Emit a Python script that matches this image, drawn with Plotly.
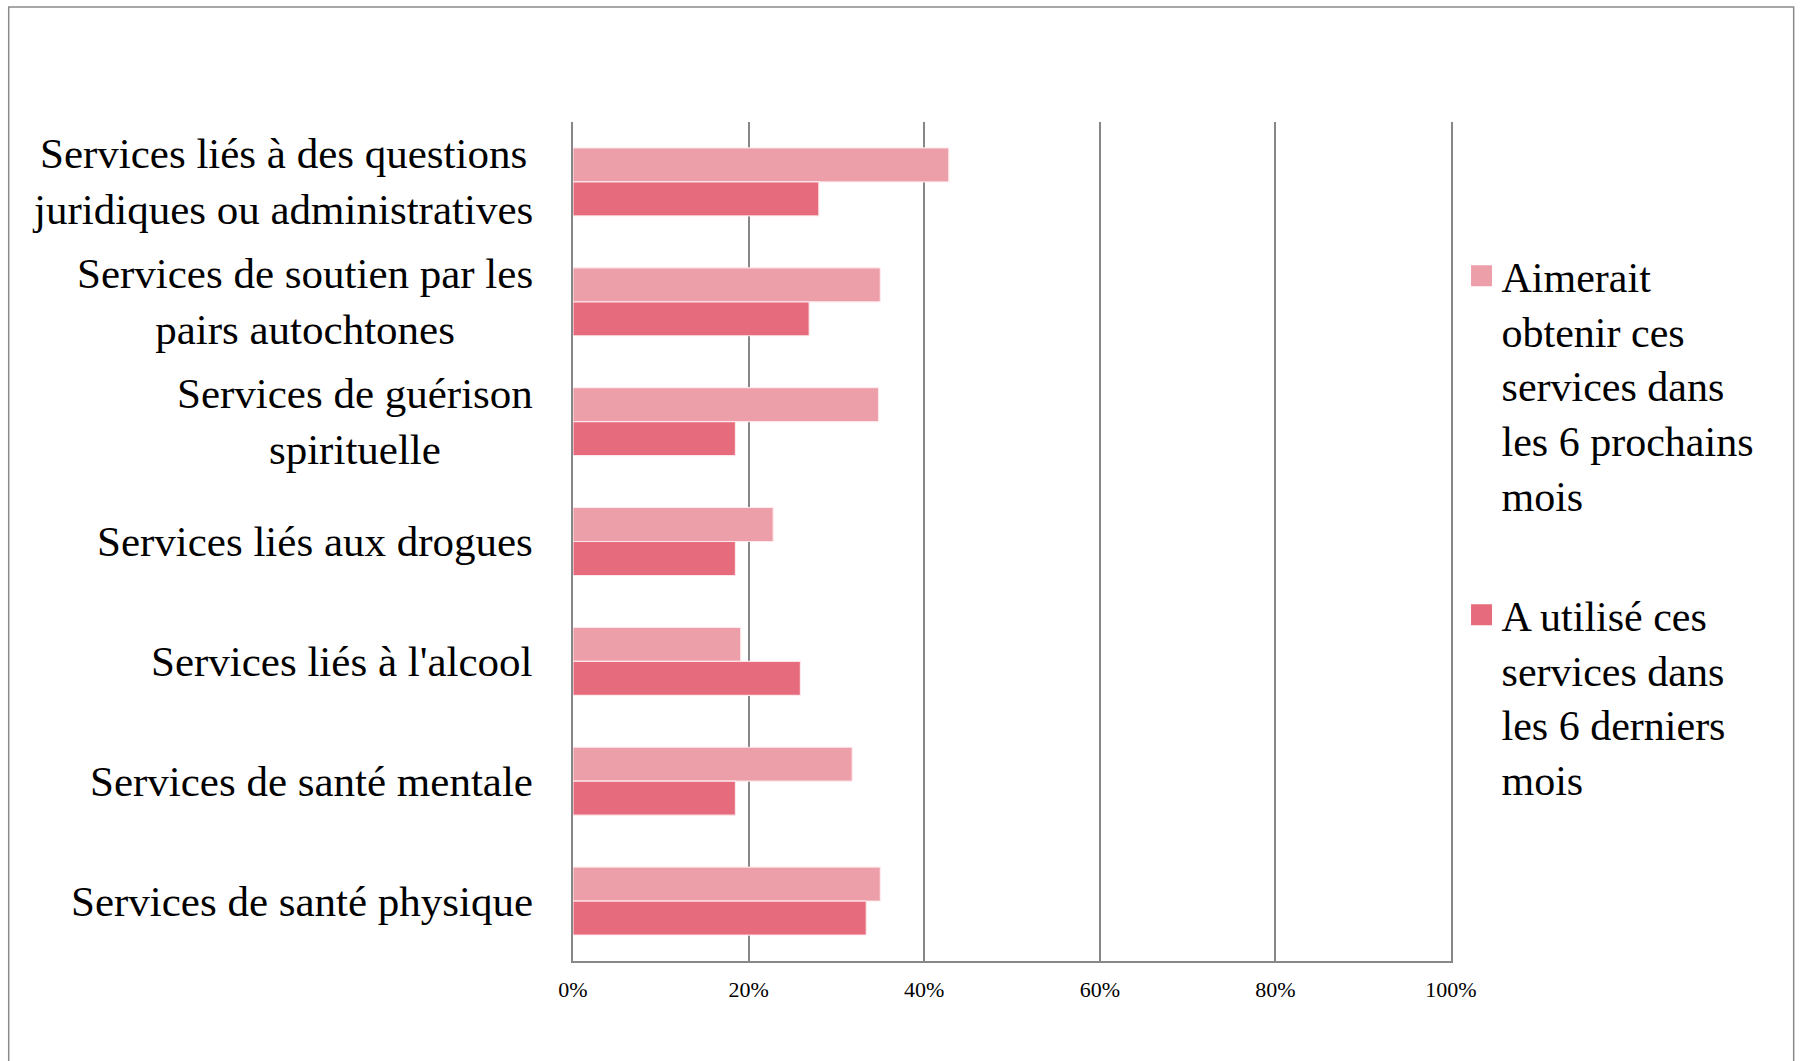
import plotly.graph_objects as go

categories = [
    "Services liés à des questions<br>juridiques ou administratives",
    "Services de soutien par les<br>pairs autochtones",
    "Services de guérison<br>spirituelle",
    "Services liés aux drogues",
    "Services liés à l'alcool",
    "Services de santé mentale",
    "Services de santé physique",
]
cat_keys = ["c1", "c2", "c3", "c4", "c5", "c6", "c7"]
series_names = [
    "Aimerait<br>obtenir ces<br>services dans<br>les 6 prochains<br>mois",
    "A utilisé ces<br>services dans<br>les 6 derniers<br>mois",
]
aimerait = [42.8, 35.0, 34.8, 22.8, 19.1, 31.8, 35.0]
utilise = [28.0, 26.9, 18.5, 18.5, 25.9, 18.5, 33.4]
x_ticks = [0, 20, 40, 60, 80, 100]
x_tick_labels = ["0%", "20%", "40%", "60%", "80%", "100%"]

colors = ["#EC9FA8", "#E66C7D"]
FONT = "Liberation Serif"

fig = go.Figure()
for name, vals, col, grp in zip(series_names, [aimerait, utilise], colors, ["g1", "g2"]):
    fig.add_trace(go.Bar(
        y=cat_keys, x=vals, name=name, orientation="h",
        marker=dict(color=col, line=dict(color="rgba(255,235,238,0.9)", width=1.2)),
        legendgroup=grp, showlegend=False,
    ))
    # legend entry with a larger square swatch (same series, same colour)
    fig.add_trace(go.Scatter(
        x=[None], y=[None], mode="markers", name=name, legendgroup=grp,
        marker=dict(symbol="square", size=16, color=col, line=dict(color=col, width=5)),
        hoverinfo="skip", showlegend=True,
    ))

for key, label in zip(cat_keys, categories):
    fig.add_annotation(
        x=0, xref="paper", y=key, yref="y", text=label, showarrow=False,
        xanchor="right", yanchor="middle", align="center", xshift=-38,
        font=dict(family=FONT, size=43, color="#000000"),
    )

fig.update_layout(
    width=1803, height=1061,
    margin=dict(l=573, r=352, t=122, b=100),
    paper_bgcolor="white", plot_bgcolor="white",
    barmode="group", bargap=0.433, bargroupgap=0,
    font=dict(family=FONT, color="#000000"),
    legend=dict(
        x=1.012, xanchor="left", y=0.857, yanchor="top",
        font=dict(family=FONT, size=42, color="#000000"),
        valign="top", traceorder="grouped", tracegroupgap=63,
        itemsizing="trace", bgcolor="rgba(0,0,0,0)",
    ),
    showlegend=True,
)
fig.update_xaxes(
    range=[0, 100], tickvals=x_ticks, ticktext=x_tick_labels,
    showgrid=True, gridcolor="#878787", gridwidth=1.6,
    showline=True, linecolor="#878787", linewidth=1.6,
    zeroline=False, ticks="", ticklabelstandoff=8,
    tickfont=dict(family=FONT, size=22, color="#000000"),
)
fig.update_yaxes(
    categoryorder="array", categoryarray=cat_keys, autorange="reversed",
    showticklabels=False, showgrid=False, ticks="",
    showline=True, mirror=True, linecolor="#878787", linewidth=1.6, zeroline=False,
)
fig.add_shape(
    type="rect", xref="paper", yref="paper",
    x0=-0.6427, x1=1.3903, y0=-0.2, y1=1.137,
    line=dict(color="#8a8a8a", width=1.5), fillcolor="rgba(0,0,0,0)", layer="below",
)

fig.write_html(
    "out.html",
    config={"displayModeBar": False},
    post_script="document.body.style.margin='0';document.body.style.overflow='hidden';",
)
